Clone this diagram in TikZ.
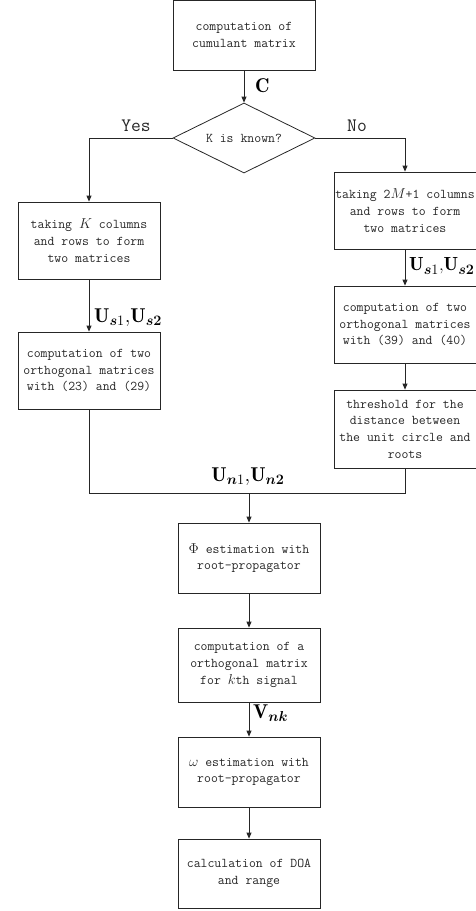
\documentclass[tikz,border=0pt]{standalone}
\usepackage{fontspec}
\usepackage{amsmath,bm}
\usetikzlibrary{shapes.geometric,arrows.meta}
\tikzset{
  box/.style={draw=black!85, line width=0.8pt, rectangle, minimum width=142pt, inner sep=0pt,
    align=center, font=\fontsize{13.4}{16.7}\selectfont\ttfamily, text=black!85},
  dec/.style={draw=black!85, line width=0.8pt, diamond, shape aspect=2.03, minimum width=142pt,
    minimum height=70pt, inner sep=0pt, font=\fontsize{13.4}{16.7}\selectfont\ttfamily, text=black!85},
  conn/.style={draw=black!85, line width=0.8pt},
  arr/.style={conn, -{Triangle[length=6pt,width=5pt]}},
  lab/.style={inner sep=0pt, font=\fontsize{20}{24}\selectfont},
  yn/.style={inner sep=0pt, font=\fontsize{19}{22}\selectfont\ttfamily, text=black!85}
}
\begin{document}
\begin{tikzpicture}[x=1pt,y=-1pt]
\useasboundingbox (0,0) rectangle (475,911);
% nodes
\node[box, minimum height=70pt] (top) at (244,35) {computation of\\cumulant matrix};
\node[dec] (dia) at (244,138) {K is known?};
\node[box, minimum height=77pt] (l1) at (89,240.5) {taking $K$ columns\\and rows to form\\two matrices};
\node[box, minimum height=77pt] (l2) at (89,370.5) {computation of two\\orthogonal matrices\\with (23) and (29)};
\node[box, minimum height=77pt] (r1) at (405,210.5) {taking 2$M$+1 columns\\and rows to form\\two matrices};
\node[box, minimum height=77pt] (r2) at (405,324.5) {computation of two\\orthogonal matrices\\with (39) and (40)};
\node[box, minimum height=78pt] (r3) at (405,429) {threshold for the\\distance between\\the unit circle and\\roots};
\node[box, minimum height=70pt] (m1) at (249,558) {$\Phi$ estimation with\\root-propagator};
\node[box, minimum height=74pt] (m2) at (249,665) {computation of a\\orthogonal matrix\\for $k$th signal};
\node[box, minimum height=70pt] (m3) at (249,772) {$\omega$ estimation with\\root-propagator};
\node[box, minimum height=69pt] (m4) at (249,873.5) {calculation of DOA\\and range};
\coordinate (jl) at (89,493);
\coordinate (jr) at (405,493);
\coordinate (jm) at (249,493);
% connectors
\draw[arr] (top) -- (dia);
\draw[arr] (dia.west) -| (l1.north);
\draw[arr] (dia.east) -| (r1.north);
\draw[arr] (l1) -- (l2);
\draw[arr] (r1) -- (r2);
\draw[arr] (r2) -- (r3);
\draw[conn] (l2.south) -- (jl) -- (jr) -- (r3.south);
\draw[arr] (jm) -- (m1.north);
\draw[arr] (m1) -- (m2);
\draw[arr] (m2) -- (m3);
\draw[arr] (m3) -- (m4);
% labels
\node[yn] (yes) at (136,126) {Yes};
\node[yn] (no) at (357,126) {No};
\node[lab, anchor=west] (lc) at (255,86) {$\mathbf{C}$};
\node[lab, anchor=west] (lus) at (94,318) {$\mathbf{U}_{\bm{s}1}\mathord{,}\mathbf{U}_{\bm{s2}}$};
\node[lab, anchor=west, font=\fontsize{19}{22}\selectfont] (rus) at (409,266) {$\mathbf{U}_{\bm{s}1}\mathord{,}\mathbf{U}_{\bm{s2}}$};
\node[lab] (un) at (248,477) {$\mathbf{U}_{\bm{n}1}\mathord{,}\mathbf{U}_{\bm{n2}}$};
\node[lab, anchor=west] (vn) at (253,713) {$\mathbf{V}_{\bm{nk}}$};
\end{tikzpicture}
\end{document}
